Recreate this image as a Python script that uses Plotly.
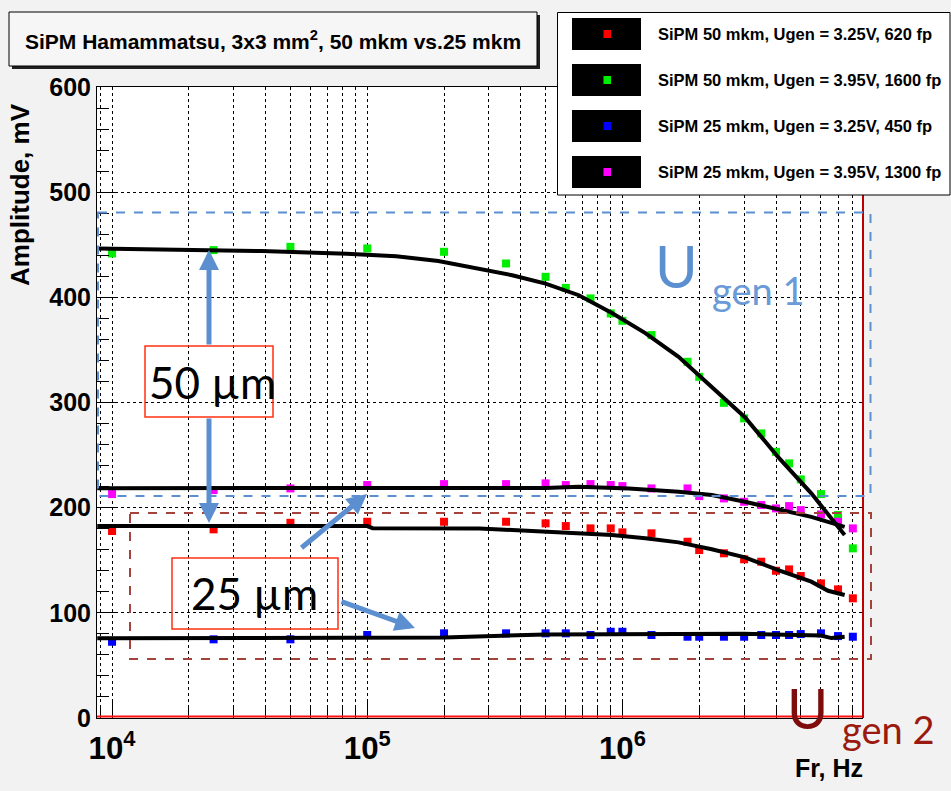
import plotly.graph_objects as go

# ---------------- data ----------------
freq = [1e4, 2.5e4, 5e4, 1e5, 2e5, 3.5e5, 5e5, 6e5, 7.5e5, 9e5, 1e6, 1.3e6, 1.8e6,
        2e6, 2.5e6, 3e6, 3.5e6, 4e6, 4.5e6, 5e6, 6e6, 7e6, 8e6]

amp_50_325 = [177.8, 179.4, 185.6, 186.6, 186.6, 186.6, 185.1, 182.5, 180.3, 180.3, 176.5,
              175.6, 167.6, 159.7, 156.6, 150.9, 148.6, 140.0, 141.3, 135.0, 128.0, 122.3, 113.8]
amp_50_395 = [441.7, 444.9, 448.0, 446.5, 443.3, 432.2, 419.5, 409.0, 399.0, 384.7, 377.7,
              364.1, 338.7, 324.4, 299.7, 284.9, 270.6, 253.1, 242.1, 226.9, 212.9, 193.0, 161.3]
amp_25_325 = [72.5, 74.8, 74.8, 78.9, 80.5, 80.5, 80.5, 80.5, 78.9, 82.0, 82.0,
              78.9, 77.3, 77.3, 77.3, 77.3, 78.9, 78.9, 78.9, 79.8, 80.5, 77.9, 77.3]
amp_25_395 = [212.9, 216.7, 218.3, 221.5, 222.4, 222.4, 223.1, 221.5, 222.4, 221.5, 220.5,
              218.3, 218.3, 211.0, 208.8, 205.6, 202.5, 199.3, 201.5, 197.7, 193.6, 186.6, 180.3]

# fitted curves
fit_freq_50_395 = [8.75e3, 1.7e4, 3.85e4, 8.3e4, 1.3e5, 1.9e5, 2.75e5, 3.7e5, 5.0e5, 6.75e5,
                   9.1e5, 1.23e6, 1.66e6, 2.24e6, 3.02e6, 4.08e6, 5.5e6, 7.43e6]
fit_amp_50_395 = [446.5, 445.5, 444.0, 441.5, 439.0, 434.5, 427.0, 421.0, 413.0, 402.0,
                  385.0, 366.0, 343.5, 315.0, 286.0, 248.0, 213.6, 174.0]

fit_freq_25_395 = [8.75e3, 3.5e5, 5.0e5, 6.75e5, 1.06e6, 1.66e6, 2.24e6, 3.02e6, 4.08e6,
                   5.5e6, 7.43e6]
fit_amp_25_395 = [218.5, 218.5, 218.8, 219.9, 218.3, 215.1, 212.0, 205.6, 198.4, 191.3, 181.8]

fit_freq_50_325 = [8.75e3, 1e5, 1.05e5, 2.75e5, 3.7e5, 5.0e5, 6.75e5, 9.1e5, 1.23e6, 1.66e6,
                   2.24e6, 3.02e6, 4.08e6, 5.5e6, 6.4e6, 7.43e6]
fit_amp_50_325 = [182.5, 182.5, 180.5, 180.3, 178.7, 177.0, 175.6, 174.0, 171.0, 167.0,
                  160.4, 152.7, 140.7, 129.6, 121.0, 117.0]

fit_freq_25_325 = [8.75e3, 2e5, 5e5, 1e6, 3e6, 6e6, 6.6e6, 7.43e6]
fit_amp_25_325 = [75.8, 76.5, 79.5, 80.0, 80.0, 78.5, 76.0, 77.3]

series_names = ["SiPM 50 mkm, Ugen = 3.25V, 620 fp",
                "SiPM 50 mkm, Ugen = 3.95V, 1600 fp",
                "SiPM 25 mkm, Ugen = 3.25V, 450 fp",
                "SiPM 25 mkm, Ugen = 3.95V, 1300 fp"]
series_colors = ["#ff0000", "#00ee00", "#0000ff", "#ff00ff"]

title_text = "SiPM Hamammatsu, 3x3 mm<sup>2</sup>, 50 mkm vs.25 mkm"
y_title = "Amplitude, mV"
x_title = "Fr, Hz"

# ---------------- figure ----------------
W, H = 951, 791
L, R, T, B = 97, 89, 87, 73
PW, PH = W - L - R, H - T - B


def px(x):
    return (x - L) / PW


def py(y):
    return (H - B - y) / PH


ROOT_FONT = "Liberation Sans, Arial, sans-serif"
fig = go.Figure()

amps = [amp_50_325, amp_50_395, amp_25_325, amp_25_395]
for name, col, a in zip(series_names, series_colors, amps):
    fig.add_trace(go.Scatter(x=freq, y=a, mode="markers", name=name,
                             marker=dict(symbol="square", size=8, color=col,
                                         line=dict(width=0))))

fits = [(fit_freq_50_325, fit_amp_50_325), (fit_freq_50_395, fit_amp_50_395),
        (fit_freq_25_325, fit_amp_25_325), (fit_freq_25_395, fit_amp_25_395)]
for fx, fy in fits:
    fig.add_trace(go.Scatter(x=fx, y=fy, mode="lines", showlegend=False,
                             line=dict(color="black", width=4)))

fig.update_layout(
    width=W, height=H,
    margin=dict(l=L, r=R, t=T, b=B),
    paper_bgcolor="#f2f2f2",
    plot_bgcolor="white",
    showlegend=False,
    font=dict(family=ROOT_FONT, color="black"),
)

fig.update_xaxes(
    type="log", range=[3.941, 6.939],
    dtick=1, exponentformat="power",
    showline=True, linecolor="black", linewidth=1, mirror=True,
    ticks="inside", ticklen=18, tickcolor="black", tickwidth=1,
    showgrid=True, gridcolor="black", gridwidth=1, griddash="dot",
    tickfont=dict(size=25, family=ROOT_FONT, weight="bold"),
    ticklabelstandoff=4,
    minor=dict(dtick="D1", ticks="inside", ticklen=10, tickcolor="black",
               showgrid=True, gridcolor="black", gridwidth=1, griddash="dot"),
    zeroline=False,
)
fig.update_yaxes(
    range=[0, 600], dtick=100,
    showline=True, linecolor="black", linewidth=1, mirror=True,
    ticks="inside", ticklen=21, tickcolor="black", tickwidth=1,
    showgrid=True, gridcolor="black", gridwidth=1, griddash="dot",
    tickfont=dict(size=25, family=ROOT_FONT, weight="bold"),
    minor=dict(dtick=20, ticks="inside", ticklen=12, tickcolor="black", showgrid=False),
    zeroline=False,
)

shapes = []
annots = []

# red frame lines (bottom and right)
shapes.append(dict(type="line", xref="paper", yref="paper", x0=px(97), x1=px(863),
                   y0=py(716.5), y1=py(716.5), line=dict(color="#ff1010", width=2), layer="above"))
shapes.append(dict(type="line", xref="paper", yref="paper", x0=px(863), x1=px(863),
                   y0=py(87), y1=py(718), line=dict(color="#c00000", width=2), layer="above"))

# dashed highlight rectangles
shapes.append(dict(type="rect", xref="paper", yref="paper", x0=px(98), x1=px(870.5),
                   y0=py(212.5), y1=py(496), line=dict(color="#5b8fd0", width=2, dash="dash"),
                   layer="above"))
shapes.append(dict(type="rect", xref="paper", yref="paper", x0=px(130), x1=px(871),
                   y0=py(513), y1=py(659), line=dict(color="#a5423b", width=2, dash="dash"),
                   layer="above"))

# labelled boxes
shapes.append(dict(type="rect", xref="paper", yref="paper", x0=px(145), x1=px(273),
                   y0=py(346), y1=py(417), line=dict(color="#ff3010", width=1.5), layer="above"))
shapes.append(dict(type="rect", xref="paper", yref="paper", x0=px(172), x1=px(338),
                   y0=py(558), y1=py(629), line=dict(color="#ff3010", width=1.5), layer="above"))
annots.append(dict(text="50 µm", xref="paper", yref="paper", x=px(212), y=py(382),
                   showarrow=False, font=dict(family="Lato, sans-serif", size=44, color="black"),
                   xanchor="center", yanchor="middle"))
annots.append(dict(text="25 µm", xref="paper", yref="paper", x=px(254), y=py(593),
                   showarrow=False, font=dict(family="Lato, sans-serif", size=44, color="black"),
                   xanchor="center", yanchor="middle"))

# arrows
ARROW = "#5b8fd0"
for (hx, hy, ax, ay) in [(209, 250, 0, 96), (209, 523, 0, -106),
                         (367, 494, -67, 55), (415, 628, -75, -27)]:
    annots.append(dict(text="", xref="paper", yref="paper", x=px(hx), y=py(hy),
                       ax=ax, ay=ay, showarrow=True, arrowhead=2, arrowsize=0.8,
                       arrowwidth=5, arrowcolor=ARROW))

# U gen labels
annots.append(dict(text="U", xref="paper", yref="paper", x=px(676), y=py(265),
                   showarrow=False, font=dict(family="Lato, sans-serif", size=58, color="#5b8fd0"),
                   xanchor="center", yanchor="middle"))
annots.append(dict(text="gen 1", xref="paper", yref="paper", x=px(710), y=py(290),
                   showarrow=False, font=dict(family="Lato, sans-serif", size=38, color="#6a9bd8"),
                   xanchor="left", yanchor="middle"))
annots.append(dict(text="U", xref="paper", yref="paper", x=px(807), y=py(707),
                   showarrow=False, font=dict(family="Lato, sans-serif", size=56, color="#7f0c0c"),
                   xanchor="center", yanchor="middle"))
annots.append(dict(text="gen 2", xref="paper", yref="paper", x=px(840), y=py(729),
                   showarrow=False, font=dict(family="Lato, sans-serif", size=38, color="#9a1a10"),
                   xanchor="left", yanchor="middle"))

# title box with shadow
shapes.append(dict(type="rect", xref="paper", yref="paper", x0=px(12), x1=px(540),
                   y0=py(15), y1=py(69), fillcolor="#202020", line=dict(width=0), layer="above"))
shapes.append(dict(type="rect", xref="paper", yref="paper", x0=px(9), x1=px(537),
                   y0=py(12), y1=py(66), fillcolor="#f6f6f6", line=dict(color="black", width=1),
                   layer="above"))
annots.append(dict(text=title_text, xref="paper", yref="paper", x=px(273), y=py(40),
                   showarrow=False, font=dict(family=ROOT_FONT, size=21, weight="bold"),
                   xanchor="center", yanchor="middle"))

# legend
shapes.append(dict(type="rect", xref="paper", yref="paper", x0=px(557.5), x1=px(950),
                   y0=py(12.5), y1=py(195), fillcolor="white", line=dict(color="black", width=1),
                   layer="above"))
leg_y = [34, 80, 126, 172]
for name, col, cy in zip(series_names, series_colors, leg_y):
    shapes.append(dict(type="rect", xref="paper", yref="paper", x0=px(572), x1=px(641),
                       y0=py(cy - 16), y1=py(cy + 16), fillcolor="black",
                       line=dict(width=0), layer="above"))
    shapes.append(dict(type="rect", xref="paper", yref="paper", x0=px(603.5), x1=px(611),
                       y0=py(cy - 4), y1=py(cy + 4), fillcolor=col,
                       line=dict(width=0), layer="above"))
    annots.append(dict(text=name, xref="paper", yref="paper", x=px(656), y=py(cy),
                       showarrow=False, font=dict(family=ROOT_FONT, size=16.5, weight="bold"),
                       xanchor="left", yanchor="middle"))

# axis titles
annots.append(dict(text=y_title, xref="paper", yref="paper", x=px(20), y=py(195),
                   showarrow=False, textangle=-90,
                   font=dict(family=ROOT_FONT, size=26, weight="bold"),
                   xanchor="center", yanchor="middle"))
annots.append(dict(text=x_title, xref="paper", yref="paper", x=px(865), y=py(768),
                   showarrow=False, font=dict(family=ROOT_FONT, size=25, weight="bold"),
                   xanchor="right", yanchor="middle"))

fig.update_layout(shapes=shapes, annotations=annots)
fig.write_html("out.html")
